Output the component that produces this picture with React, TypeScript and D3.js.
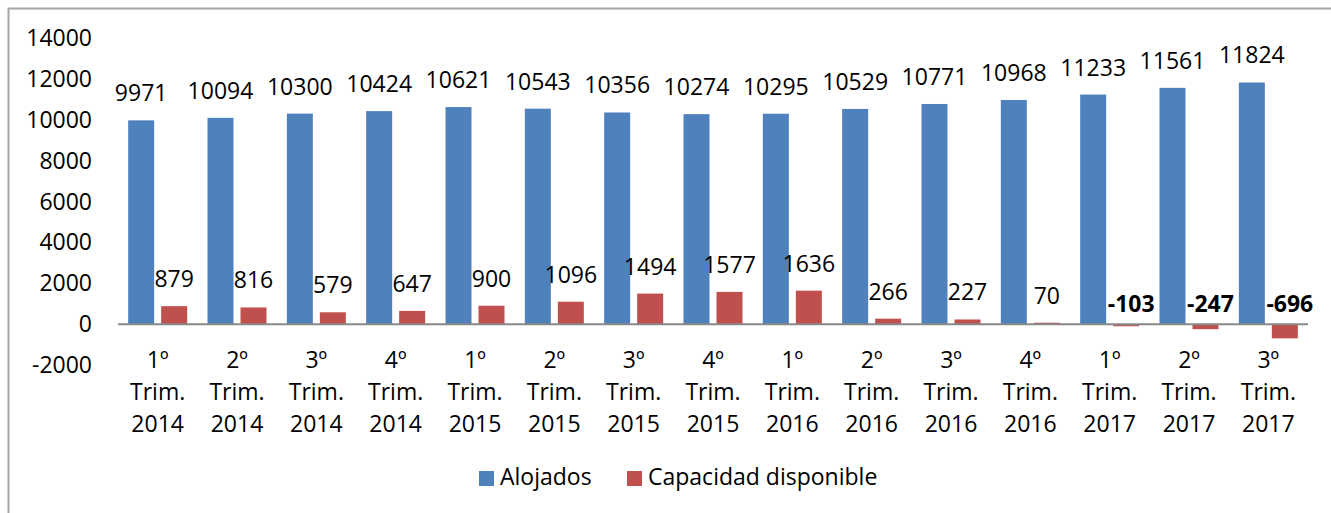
import React from "react";
import * as d3 from "d3";

const quarters = ["1º", "2º", "3º", "4º", "1º", "2º", "3º", "4º", "1º", "2º", "3º", "4º", "1º", "2º", "3º"];
const years = ["2014", "2014", "2014", "2014", "2015", "2015", "2015", "2015", "2016", "2016", "2016", "2016", "2017", "2017", "2017"];
const alojados = [9971, 10094, 10300, 10424, 10621, 10543, 10356, 10274, 10295, 10529, 10771, 10968, 11233, 11561, 11824];
const capacidad = [879, 816, 579, 647, 900, 1096, 1494, 1577, 1636, 266, 227, 70, -103, -247, -696];
const yTicks = [-2000, 0, 2000, 4000, 6000, 8000, 10000, 12000, 14000];
const seriesNames = ["Alojados", "Capacidad disponible"];
const colors = ["#4F81BD", "#C0504D"];

const W = 1331;
const H = 513;
const FONT = "'Open Sans', 'Noto Sans', sans-serif";
const FS = 23;

export default function App() {
  const idx = quarters.map((_, i) => i);
  const x = d3.scaleBand<number>().domain(idx).range([118, 1308]).padding(0);
  const y = d3.scaleLinear().domain([-2000, 14000]).range([365, 38]);
  const bw = x.bandwidth();
  const barW = 26;
  const gap = 7;
  const off = (bw - 2 * barW - gap) / 2;
  const y0 = y(0);

  return (
    <svg
      width={W}
      height={H}
      style={{ position: "absolute", left: 0, top: 0, background: "#fff" }}
      fontFamily={FONT}
    >
      <rect x={0} y={0} width={W} height={H} fill="#fff" />
      <rect x={8.5} y={8.5} width={W + 100} height={H + 100} fill="#fff" stroke="#A6A6A6" strokeWidth={2} />

      {/* y tick labels */}
      {yTicks.map((t) => (
        <text key={t} x={92} y={y(t) + 8} textAnchor="end" fontSize={FS} fill="#000">
          {t}
        </text>
      ))}

      {/* bars */}
      {idx.map((i) => {
        const bx = (x(i) as number) + off;
        const a = alojados[i];
        const c = capacidad[i];
        return (
          <g key={i}>
            <rect x={bx} y={y(a)} width={barW} height={y0 - y(a)} fill={colors[0]} />
            <rect
              x={bx + barW + gap}
              y={Math.min(y(c), y0)}
              width={barW}
              height={Math.abs(y0 - y(c))}
              fill={colors[1]}
            />
          </g>
        );
      })}

      {/* zero line */}
      <line x1={118} x2={1308} y1={y0} y2={y0} stroke="#898989" strokeWidth={2} />

      {/* value labels */}
      {idx.map((i) => {
        const bx = (x(i) as number) + off;
        const a = alojados[i];
        const c = capacidad[i];
        const neg = c < 0;
        return (
          <g key={"l" + i}>
            <text x={bx + barW / 2} y={y(a) - 19} textAnchor="middle" fontSize={FS} fill="#000">
              {a}
            </text>
            <text
              x={bx + barW + gap + barW / 2 + (neg ? 5 : 0)}
              y={neg ? y0 - 12 : y(c) - 19}
              textAnchor="middle"
              fontSize={FS}
              fontWeight={neg ? "bold" : "normal"}
              fill="#000"
            >
              {c}
            </text>
          </g>
        );
      })}

      {/* category labels */}
      {idx.map((i) => {
        const cx = (x(i) as number) + bw / 2;
        return (
          <text key={"c" + i} x={cx} textAnchor="middle" fontSize={FS} fill="#000">
            <tspan x={cx} y={368}>{quarters[i]}</tspan>
            <tspan x={cx} y={400}>Trim.</tspan>
            <tspan x={cx} y={432}>{years[i]}</tspan>
          </text>
        );
      })}

      {/* legend */}
      <rect x={479} y={471} width={15} height={15} fill={colors[0]} />
      <text x={500} y={485} fontSize={FS} fill="#000">{seriesNames[0]}</text>
      <rect x={627} y={471} width={15} height={15} fill={colors[1]} />
      <text x={648} y={485} fontSize={FS} fill="#000">{seriesNames[1]}</text>
    </svg>
  );
}
